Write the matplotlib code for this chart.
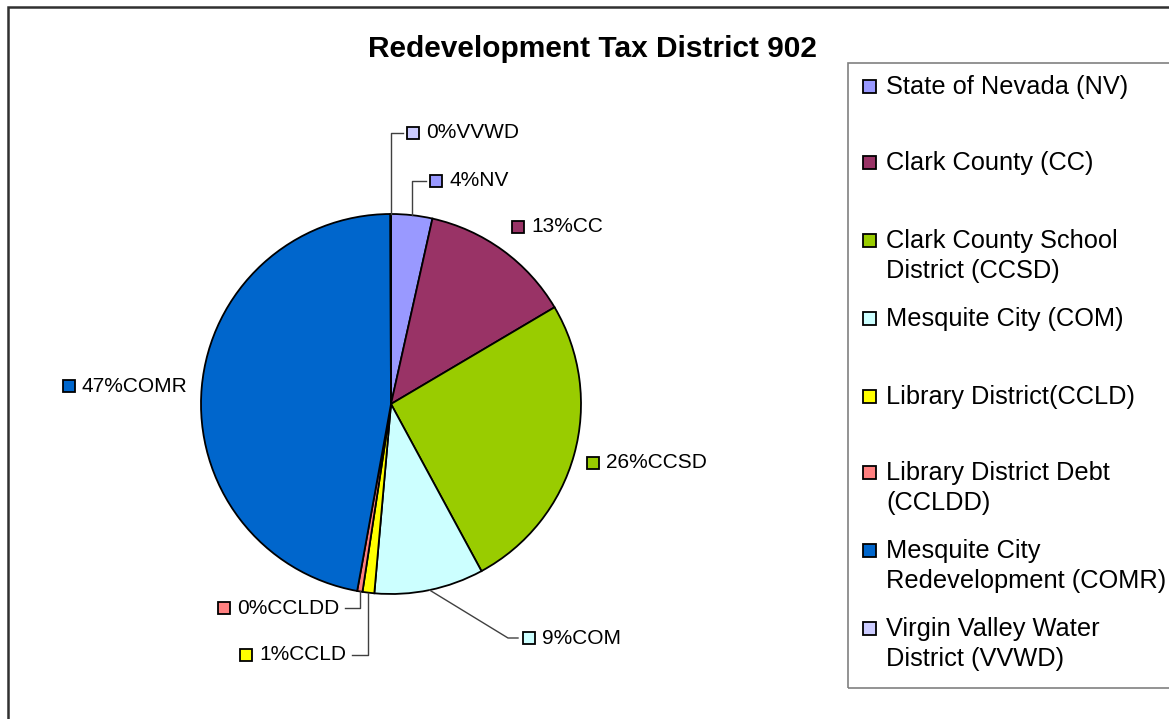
import numpy as np
import matplotlib
matplotlib.use("Agg")
import matplotlib.pyplot as plt
from matplotlib.patches import Rectangle

plt.rcParams['font.family'] = ['Liberation Sans', 'DejaVu Sans']

# data (percent of tax rate)
abbrevs = ['NV', 'CC', 'CCSD', 'COM', 'CCLD', 'CCLDD', 'COMR', 'VVWD']
shares = [3.5, 13.0, 25.6, 9.3, 1.0, 0.45, 47.1, 0.05]
names = ['State of Nevada (NV)', 'Clark County (CC)',
         'Clark County School\nDistrict (CCSD)', 'Mesquite City (COM)',
         'Library District(CCLD)', 'Library District Debt\n(CCLDD)',
         'Mesquite City\nRedevelopment (COMR)', 'Virgin Valley Water\nDistrict (VVWD)']
colors = ['#9999FF', '#993366', '#99CC00', '#CCFFFF',
          '#FFFF00', '#FF8080', '#0066CC', '#CCCCFF']

W, H = 1169, 719
fig = plt.figure(figsize=(W / 100, H / 100), dpi=100)
ax = fig.add_axes([0, 0, 1, 1])

def Y(y):
    # image-style y (from top) to axes y
    return H - y

cx, cy, r = 391, Y(404), 190
wedges, _ = ax.pie(shares, colors=colors, startangle=90, counterclock=False,
                   radius=r, center=(cx, cy), frame=True,
                   wedgeprops=dict(edgecolor='black', linewidth=1.3))

# label layout: box left x, y, elbow kind, end x of the leader line
label_pos = {
    'NV': (430, 181, 'v', 426), 'CC': (512, 227, None, None),
    'CCSD': (587, 463, None, None), 'COM': (523, 638, 'd', 518),
    'CCLD': (240, 655, 'v', 352), 'CCLDD': (218, 608, 'v', 345),
    'COMR': (63, 386, None, None), 'VVWD': (407, 133, 'v', 403),
}
line_c = '#404040'
for w, ab, v, col in zip(wedges, abbrevs, shares, colors):
    bx, by, elbow, ex = label_pos[ab]
    mid = np.deg2rad((w.theta1 + w.theta2) / 2)
    px, py = cx + r * np.cos(mid), cy + r * np.sin(mid)
    ax.add_patch(Rectangle((bx, Y(by) - 6), 12, 12, facecolor=col,
                           edgecolor='black', lw=1.3, zorder=5))
    ax.text(bx + 19, Y(by), f"{v:.0f}%{ab}", fontsize=15, va='center', ha='left')
    if elbow == 'v':
        ax.plot([px, px, ex], [py, Y(by), Y(by)], color=line_c, lw=1)
    elif elbow == 'd':
        ax.plot([px, 508, ex], [py, Y(by), Y(by)], color=line_c, lw=1)

# title
ax.text(593, Y(49), 'Redevelopment Tax District 902', fontsize=21.5,
        fontweight='bold', ha='center', va='center')

# outer chart border (runs off the right and bottom edges)
ax.add_patch(Rectangle((8, -10), W + 20, Y(7) + 10, fill=False,
                       edgecolor='#303030', lw=1.8))

# legend frame
ax.add_patch(Rectangle((848, Y(688)), 400, 688 - 63, fill=False,
                       edgecolor='#808080', lw=1.2))
leg_y = [86, 162, 240, 318, 396, 472, 550, 628]
for ly, nm, col in zip(leg_y, names, colors):
    ax.add_patch(Rectangle((863, Y(ly) - 6.5), 13, 13, facecolor=col,
                           edgecolor='black', lw=1.3))
    ax.text(886, Y(ly) + 11, nm, fontsize=18.3, va='top', ha='left',
            linespacing=1.34)

ax.set_xlim(0, W)
ax.set_ylim(0, H)
ax.set_aspect('auto')
ax.axis('off')
fig.savefig('out.png', dpi=100)
